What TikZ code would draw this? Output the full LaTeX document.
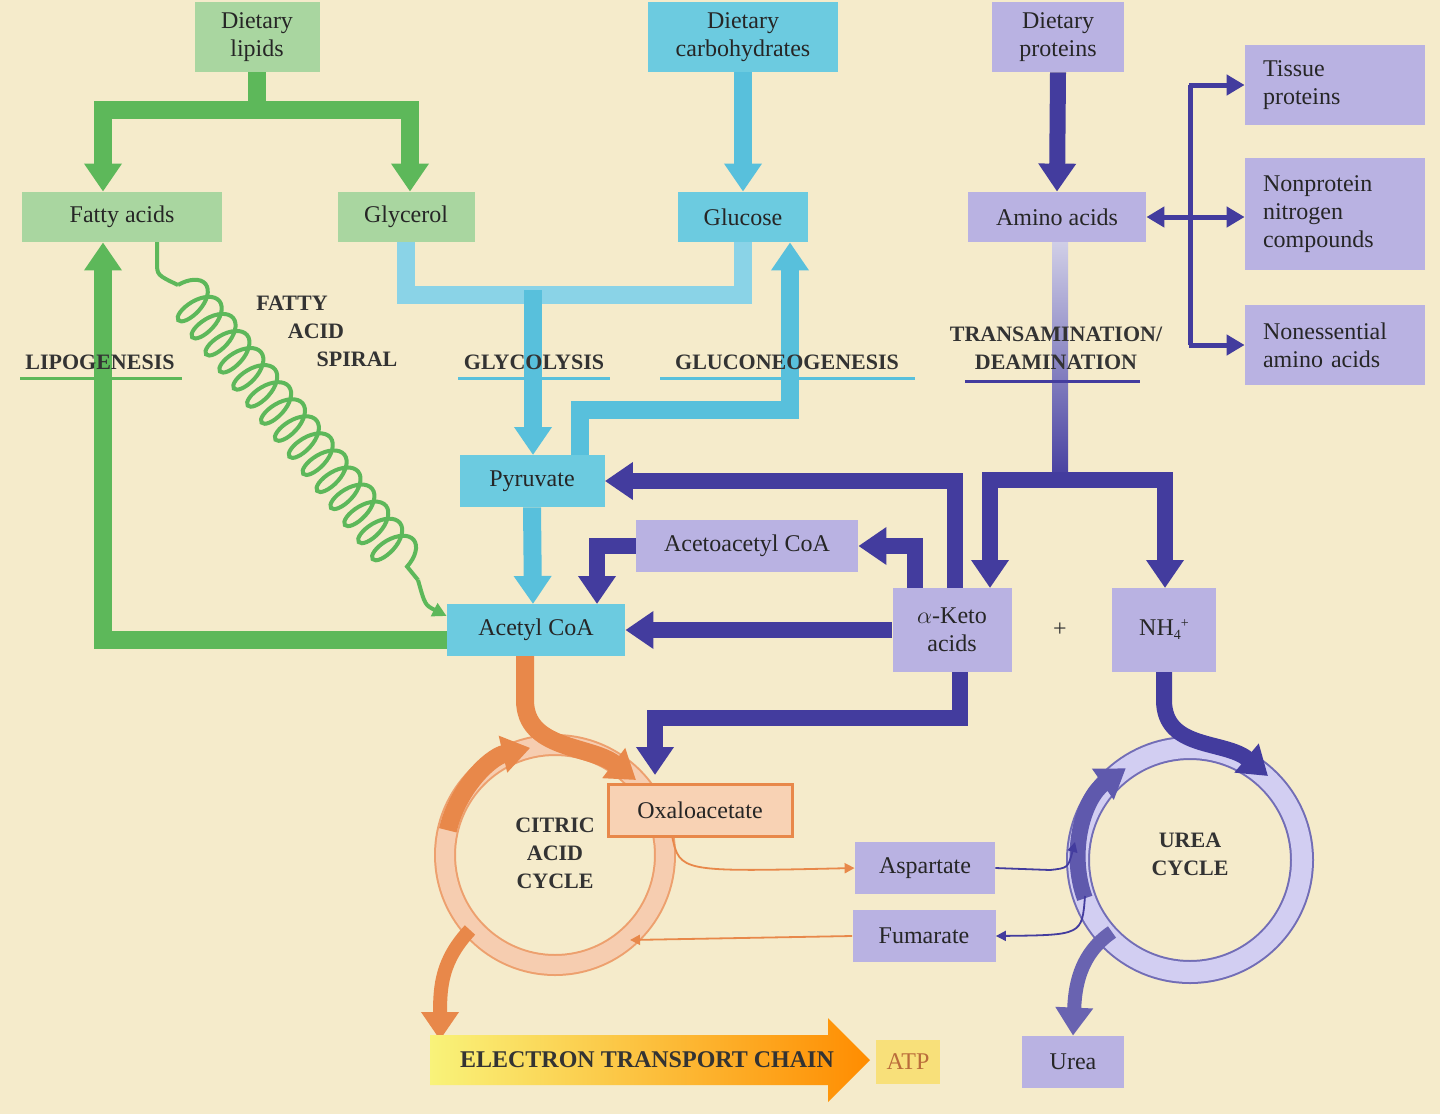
\documentclass[tikz,border=0pt]{standalone}
\usepackage{fontspec}
\setmainfont{Liberation Serif}
\usetikzlibrary{arrows.meta,decorations.pathmorphing}
\definecolor{bg}{HTML}{F5EBCB}
\definecolor{gbox}{HTML}{A9D6A0}
\definecolor{cbox}{HTML}{6CCBE0}
\definecolor{pbox}{HTML}{B9B2E2}
\definecolor{garr}{HTML}{5DB85A}
\definecolor{carr}{HTML}{58C0DC}
\definecolor{parr}{HTML}{433C9E}
\definecolor{oarr}{HTML}{E8884A}
\definecolor{oring}{HTML}{F6CDB0}
\definecolor{obox}{HTML}{F8D2B4}
\definecolor{pring}{HTML}{D2CEF2}
\definecolor{atp}{HTML}{F8E07A}
\tikzset{
 box/.style={inner sep=0pt,align=center,font=\fontsize{12}{14}\selectfont,text=black!85},
 lab/.style={align=center,font=\bfseries\fontsize{11}{14}\selectfont,text=black!80},
 big/.style={line width=9pt,-{Triangle[width=18pt,length=14pt]}},
 garrow/.style={big,draw=garr},
 carrow/.style={big,draw=carr},
 parrow/.style={big,line width=8pt,draw=parr},
 pthin/.style={draw=parr,line width=2.5pt,-{Triangle[width=10pt,length=9pt]}},
 othin/.style={draw=oarr,line width=0.9pt,-{Triangle[width=5pt,length=5pt]}},
 bthin/.style={draw=parr,line width=0.9pt,-{Triangle[width=5pt,length=5pt]}},
}
\begin{document}
\begin{tikzpicture}[x=0.5pt,y=-0.5pt]
\fill[bg] (0,0) rectangle (1440,1114);
\useasboundingbox (0,0) rectangle (1440,1114);
% boxes
\node[box,fill=gbox,minimum width=62.5pt,minimum height=35pt] (lipids) at (257,37) {Dietary\\lipids};
\node[box,fill=cbox,minimum width=95pt,minimum height=35pt] (carbs) at (743,37) {Dietary\\carbohydrates};
\node[box,fill=pbox,minimum width=66pt,minimum height=35pt] (proteins) at (1058,37) {Dietary\\proteins};
\node[box,fill=pbox,minimum width=90pt,minimum height=40pt,align=left,text width=72pt] (tissue) at (1335,85) {Tissue\\proteins};
\node[box,fill=pbox,minimum width=90pt,minimum height=56pt,align=left,text width=72pt] (nonprot) at (1335,214) {Nonprotein\\nitrogen\\compounds};
\node[box,fill=pbox,minimum width=90pt,minimum height=40pt,align=left,text width=72pt] (noness) at (1335,345) {Nonessential\\amino acids};
\node[box,fill=gbox,minimum width=100pt,minimum height=25pt] (fatty) at (122,217) {Fatty acids};
\node[box,fill=gbox,minimum width=68.5pt,minimum height=25pt] (glycerol) at (406,217) {Glycerol};
\node[box,fill=cbox,minimum width=65pt,minimum height=25pt] (glucose) at (743,217) {Glucose};
\node[box,fill=pbox,minimum width=89pt,minimum height=25pt] (amino) at (1057,217) {Amino acids};
\node[box,fill=cbox,minimum width=72.5pt,minimum height=26pt] (pyruvate) at (532,481) {Pyruvate};
\node[box,fill=pbox,minimum width=111pt,minimum height=26pt] (acac) at (747,546) {Acetoacetyl CoA};
\node[box,fill=cbox,minimum width=89pt,minimum height=26pt] (acetyl) at (536,630) {Acetyl CoA};
\node[box,fill=pbox,minimum width=59.5pt,minimum height=42pt] (keto) at (952,630) {$\alpha$-Keto\\acids};
\node[box,fill=pbox,minimum width=52pt,minimum height=42pt] (nh4) at (1164,630) {NH\raisebox{-2pt}{\scriptsize 4}\raisebox{4pt}{\scriptsize +}};
\node[box,fill=pbox,minimum width=70pt,minimum height=26pt] (asp) at (925,868) {Aspartate};
\node[box,fill=pbox,minimum width=71.5pt,minimum height=26pt] (fum) at (924,936) {Fumarate};
\node[box,fill=pbox,minimum width=51pt,minimum height=26pt] (urea) at (1073,1062) {Urea};
% rings
\draw[oarr!80,line width=11pt] (555,855) circle[radius=110];
\draw[oring,line width=9pt] (555,855) circle[radius=110];
\draw[parr!75,line width=12pt] (1190,860) circle[radius=112];
\draw[pring,line width=10pt] (1190,860) circle[radius=112];
\draw[big,draw=oarr] (447.8,830.3) arc[start angle=-167,end angle=-103,radius=110];
\draw[big,line width=8pt,draw=parr!85] (1084.8,898.3) arc[start angle=-200,end angle=-125,radius=112];
\node[box,fill=obox,draw=oarr,line width=1.5pt,minimum width=92pt,minimum height=26pt] (oxa) at (700,810) {Oxaloacetate};
% green arrows
\draw[garr,line width=9pt] (lipids.south) -- (257,110);
\draw[garrow] (257,110) -| ([xshift=-9.5pt]fatty.north);
\draw[garrow] (257,110) -| ([xshift=2pt]glycerol.north);
\draw[garrow] ([yshift=-5pt]acetyl.west) -| ([xshift=-9.5pt]fatty.south);
\draw[garr,line width=2pt] (157,242) -- (157,262) .. controls (157,275) .. (178,285);
\draw[garr,line width=2pt,decorate,decoration={coil,amplitude=11pt,segment length=11pt,aspect=0.5}] (178,285) -- (418,580);
\draw[garr,line width=2pt,-{Triangle[width=7pt,length=7pt]}] (418,580) .. controls (425,605) .. ([yshift=7pt]acetyl.west);
% cyan arrows
\draw[carrow] (carbs.south) -- (glucose.north);
\draw[carr!70,line width=9pt] (glycerol.south) |- (533,295);
\draw[carr!70,line width=9pt] (glucose.south) |- (533,295);
\draw[carrow] (533,290) -- (533,455);
\draw[carrow] (580,455) |- (790,410) -- ([xshift=23.5pt]glucose.south);
\draw[carrow] (pyruvate.south) -- (533,604);
% purple thick
\draw[parrow] (proteins.south) -- (amino.north);
\shade[top color=parr!25,bottom color=parr] (1052,242) rectangle (1068,484);
\draw[parrow] (1060,480) -| (990,588);
\draw[parrow] (1060,480) -| (1165,588);
\draw[parrow] (955,588) |- (pyruvate.east);
\draw[parrow] (915,588) |- (acac.east);
\draw[parrow] (acac.west) -| (597,604);
\draw[parrow] (keto.west) -- (acetyl.east);
\draw[parrow] (960,672) |- (655,718) -- (655,775);
% purple thin
\draw[pthin,{Triangle[width=10pt,length=9pt]}-{Triangle[width=10pt,length=9pt]}] (amino.east) -- (amino.east -| nonprot.west);
\draw[parr,line width=2.5pt] (1190,85) -- (1190,345);
\draw[pthin] (1189,85) -- (tissue.west);
\draw[pthin] (1189,345) -- (noness.west);
% orange / urea flows
\draw[big,draw=oarr] (525,656) -- (525,700) .. controls (525,750) and (590,745) .. (636,780);
\draw[big,line width=8pt,draw=parr] (1164,672) -- (1164,700) .. controls (1164,750) and (1225,740) .. (1268,776);
\draw[big,line width=7pt,draw=parr!80] (1112,932) .. controls (1078,955) and (1075,990) .. (urea.north);
\draw[big,line width=7pt,draw=oarr] (470,930) .. controls (442,960) and (440,985) .. (440,1040);
\draw[othin] (672,836) .. controls (680,872) .. (asp.west);
\draw[othin] (fum.west) -- (630,940);
\draw[bthin] (asp.east) -- (1050,870) .. controls (1068,868) .. (1075,842);
\draw[bthin] (1085,896) .. controls (1082,935) .. (fum.east);
% ETC
\shade[left color=bg!60!yellow,right color=orange!90!yellow] (430,1035) -- (828,1035) -- (828,1018) -- (870,1060) -- (828,1102) -- (828,1085) -- (430,1085) -- cycle;
\node[lab,font=\bfseries\fontsize{12}{14}\selectfont] (etc) at (647,1060) {ELECTRON TRANSPORT CHAIN};
\node[box,fill=atp,minimum width=32pt,minimum height=22pt,text=oarr!80!black] (atpn) at (908,1062) {ATP};
% labels
\node[lab] (lipo) at (100,362) {LIPOGENESIS};
\draw[garr,line width=1.5pt] (20,378) -- (182,378);
\node[lab] (fa1) at (292,303) {FATTY};
\node[lab] (fa2) at (316,331) {ACID};
\node[lab] (fa3) at (357,359) {SPIRAL};
\node[lab] (glyc) at (534,362) {GLYCOLYSIS};
\draw[carr,line width=1.5pt] (458,378) -- (610,378);
\node[lab] (gng) at (787,362) {GLUCONEOGENESIS};
\draw[carr,line width=1.5pt] (660,378) -- (915,378);
\node[lab] (trans) at (1056,348) {TRANSAMINATION/\\DEAMINATION};
\draw[parr,line width=1.5pt] (965,381) -- (1140,381);
\node[lab] (cac) at (555,853) {CITRIC\\ACID\\CYCLE};
\node[lab] (uc) at (1190,854) {UREA\\CYCLE};
\node[lab,font=\fontsize{12}{14}\selectfont] (plus) at (1060,630) {+};
\end{tikzpicture}
\end{document}
